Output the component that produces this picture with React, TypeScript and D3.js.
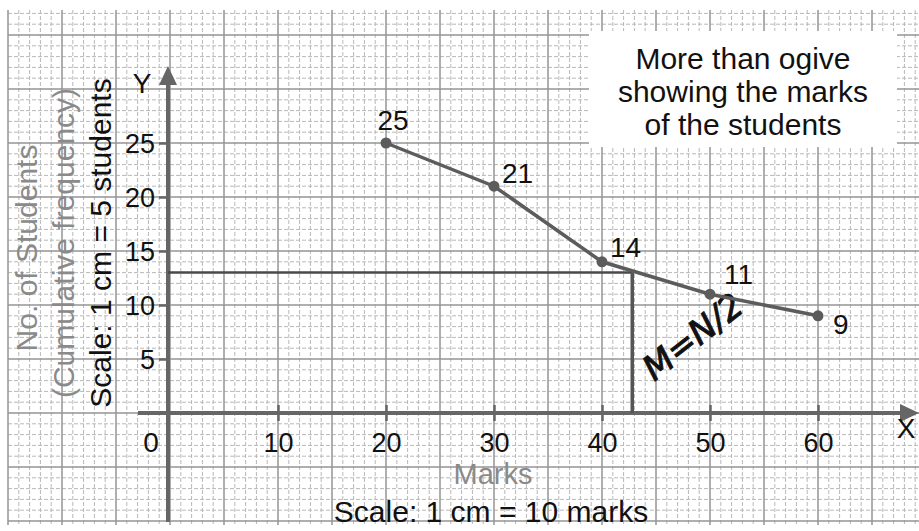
import React, { useEffect, useRef } from "react";
import * as d3 from "d3";

// marks (lower class limits) and "more than" cumulative frequencies
const marks = [20, 30, 40, 50, 60];
const cumFreq = [25, 21, 14, 11, 9];
const xTickValues = [10, 20, 30, 40, 50, 60];
const yTickValues = [5, 10, 15, 20, 25];
const titleLines = ["More than ogive", "showing the marks", "of the students"];
const yTitleLines = ["No. of Students", "(Cumulative frequency)", "Scale: 1 cm = 5 students"];
const medianN2 = 13;
const medianMark = 42.8;

const width = 919;
const height = 531;
const font = "'Liberation Sans', Arial, sans-serif";
const axisColor = "#666";
const lineColor = "#5c5c5c";

// where each point label sits relative to its point
const labelOffset: [number, number, string][] = [
  [7, -13, "middle"],
  [8, -3, "start"],
  [8, -5, "start"],
  [14, -10, "start"],
  [15, 18, "start"],
];

const x = d3.scaleLinear().domain([0, 60]).range([170, 818]);
const y = d3.scaleLinear().domain([0, 25]).range([413, 143]);

const OgiveChart = () => {
  const axisBottomEl = useRef<SVGGElement>(null);
  const axisLeftEl = useRef<SVGGElement>(null);

  useEffect(() => {
    const gx = d3.select(axisBottomEl.current);
    gx.call(d3.axisBottom(x).tickValues(xTickValues).tickSize(8) as any);
    gx.select(".domain").remove();
    gx.selectAll(".tick line")
      .attr("y1", -8)
      .attr("y2", 8)
      .attr("stroke", axisColor)
      .attr("stroke-width", 2.5);
    gx.selectAll(".tick text")
      .attr("y", 39)
      .attr("dy", 0)
      .attr("fill", "#111")
      .style("font", `27px ${font}`);

    const gy = d3.select(axisLeftEl.current);
    gy.call(d3.axisLeft(y).tickValues(yTickValues).tickSize(9) as any);
    gy.select(".domain").remove();
    gy.selectAll(".tick line").attr("stroke", axisColor).attr("stroke-width", 2.5);
    gy.selectAll(".tick text")
      .attr("x", -13)
      .attr("dy", "0.36em")
      .attr("fill", "#111")
      .style("font", `27px ${font}`);
  }, []);

  // graph paper grid in data units (1 unit minor, 5 units major)
  const gx0 = -15, gx1 = 70, gy0 = -10, gy1 = 37;
  const minorX = d3.range(gx0, gx1 + 1).filter((v) => v % 5 !== 0);
  const majorX = d3.range(gx0, gx1 + 1, 5);
  const minorY = d3.range(gy0, gy1 + 1).filter((v) => v % 5 !== 0);
  const majorY = d3.range(gy0, gy1 + 1).filter((v) => v % 5 === 0);

  const left = 8, right = width, top = 10, bottom = 525;

  const line = d3
    .line<number>()
    .x((_, i) => x(marks[i]))
    .y((d) => y(d));

  const x0 = x(0);
  const y0 = y(0);

  return (
    <svg
      width={width}
      height={height}
      style={{ position: "absolute", left: 0, top: 0, background: "#fff" }}
    >
      <g>
        {minorX.map((v) => (
          <line key={"mx" + v} x1={x(v)} x2={x(v)} y1={top} y2={bottom}
            stroke="#b8b8b8" strokeWidth={1} strokeDasharray="4,2" />
        ))}
        {minorY.map((v) => (
          <line key={"my" + v} x1={left} x2={right} y1={y(v)} y2={y(v)}
            stroke="#b8b8b8" strokeWidth={1} strokeDasharray="4,2" />
        ))}
        {majorX.map((v) => (
          <line key={"Mx" + v} x1={x(v)} x2={x(v)} y1={top} y2={bottom}
            stroke="#959595" strokeWidth={1.5} />
        ))}
        {majorY.map((v) => (
          <line key={"My" + v} x1={left} x2={right} y1={y(v)} y2={y(v)}
            stroke="#959595" strokeWidth={1.5} />
        ))}
      </g>

      {/* title box */}
      <rect x={589} y={31} width={308} height={116} fill="#fff" />
      <text textAnchor="middle" fill="#111" style={{ font: `30px ${font}` }}>
        {titleLines.map((t, i) => (
          <tspan key={i} x={743} y={69 + i * 33}>{t}</tspan>
        ))}
      </text>

      {/* axes */}
      <line x1={138} x2={904} y1={y0} y2={y0} stroke={axisColor} strokeWidth={4} />
      <path d={`M919,${y0}L900,${y0 - 9}L900,${y0 + 9}Z`} fill={axisColor} />
      <line x1={x0 - 2} x2={x0 - 2} y1={522} y2={82} stroke={axisColor} strokeWidth={4} />
      <path d={`M${x0 - 2},66L${x0 - 11},85L${x0 + 7},85Z`} fill={axisColor} />
      <g ref={axisBottomEl} transform={`translate(0,${y0})`} />
      <g ref={axisLeftEl} transform={`translate(${x0 - 2},0)`} />

      <text x={151} y={452} textAnchor="middle" fill="#111" style={{ font: `28px ${font}` }}>0</text>
      <text x={906} y={438} textAnchor="middle" fill="#111" style={{ font: `28px ${font}` }}>X</text>
      <text x={142} y={93} textAnchor="middle" fill="#111" style={{ font: `28px ${font}` }}>Y</text>

      {/* axis titles */}
      <text x={493} y={484} textAnchor="middle" fill="#8a8a8a" style={{ font: `29px ${font}` }}>Marks</text>
      <text x={491} y={522} textAnchor="middle" fill="#111" style={{ font: `30px ${font}` }}>
        Scale: 1 cm = 10 marks
      </text>
      {yTitleLines.map((t, i) => (
        <text
          key={i}
          transform={`translate(${37 + i * 37},${[248, 243, 243][i]}) rotate(-90)`}
          textAnchor="middle"
          fill={i < 2 ? "#8a8a8a" : "#111"}
          style={{ font: `30px ${font}` }}
        >
          {t}
        </text>
      ))}

      {/* median construction */}
      <line x1={x0 - 2} x2={x(medianMark)} y1={y(medianN2)} y2={y(medianN2)}
        stroke="#4a4a4a" strokeWidth={2.5} />
      <line x1={x(medianMark)} x2={x(medianMark)} y1={y(medianN2)} y2={y0}
        stroke="#555" strokeWidth={3.5} />
      <text
        transform="translate(700,346) rotate(-38)"
        textAnchor="middle"
        fill="#111"
        stroke="#111"
        strokeWidth={1}
        style={{ font: `34px 'DejaVu Sans', sans-serif`, fontStyle: "italic" }}
      >
        M=N/2
      </text>

      {/* ogive */}
      <path d={line(cumFreq) as string} fill="none" stroke={lineColor} strokeWidth={3.5} />
      {cumFreq.map((d, i) => (
        <circle key={i} cx={x(marks[i])} cy={y(d)} r={5.5} fill={lineColor} />
      ))}
      {cumFreq.map((d, i) => (
        <text
          key={"l" + i}
          x={x(marks[i]) + labelOffset[i][0]}
          y={y(d) + labelOffset[i][1]}
          textAnchor={labelOffset[i][2] as any}
          fill="#111"
          style={{ font: `28px ${font}` }}
        >
          {d}
        </text>
      ))}
    </svg>
  );
};

export default function App() {
  return <OgiveChart />;
}
